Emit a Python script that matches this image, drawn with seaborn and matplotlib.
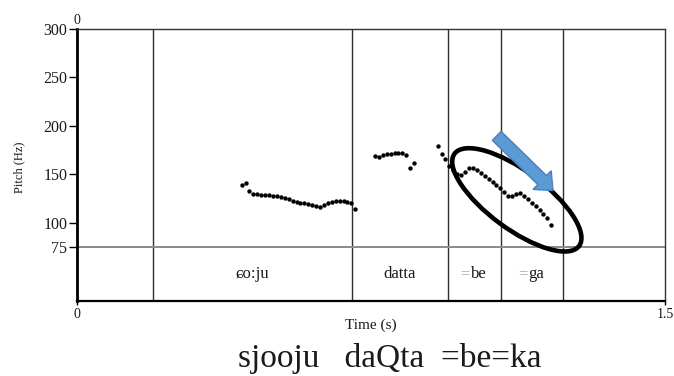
import matplotlib
matplotlib.use("Agg")
import matplotlib.pyplot as plt
import matplotlib.patches as mpatches
from matplotlib.transforms import IdentityTransform
import numpy as np
import pandas as pd
import seaborn as sns

# ---------------- data ----------------
seg1_time = [0.42, 0.43, 0.44, 0.45, 0.46, 0.47, 0.48, 0.49, 0.50, 0.51, 0.52,
             0.53, 0.54, 0.55, 0.56, 0.57, 0.58, 0.59, 0.60, 0.61, 0.62, 0.63,
             0.64, 0.65, 0.66, 0.67, 0.68, 0.69, 0.70, 0.71]
seg1_pitch = [138.9, 141.2, 132.7, 129.9, 129.6, 129.2, 129.0, 128.6, 128.0, 127.5,
              127.0, 125.6, 124.2, 123.0, 121.8, 120.9, 120.3, 119.6, 118.6, 117.0,
              116.5, 118.8, 120.5, 121.8, 122.4, 122.7, 122.4, 121.7, 120.3, 114.1]

seg2_time = [0.76, 0.77, 0.78, 0.79, 0.80, 0.81, 0.82, 0.83, 0.84, 0.85, 0.86]
seg2_pitch = [169.4, 167.7, 170.0, 170.8, 171.4, 171.9, 172.4, 172.0, 169.8, 156.7, 162.2]

seg3_time = [0.92, 0.93, 0.94, 0.95, 0.96, 0.97, 0.98, 0.99, 1.00, 1.01, 1.02,
             1.03, 1.04, 1.05, 1.06, 1.07, 1.08, 1.09, 1.10, 1.11, 1.12, 1.13,
             1.14, 1.15, 1.16, 1.17, 1.18, 1.19, 1.20, 1.21]
seg3_pitch = [179.7, 171.1, 166.0, 158.8, 154.6, 150.5, 149.0, 152.6, 156.2, 156.2,
              154.1, 151.2, 148.2, 145.4, 141.8, 138.7, 135.6, 132.0, 127.8, 127.3,
              129.4, 130.4, 127.3, 124.2, 120.6, 117.5, 113.4, 109.3, 104.6, 97.9]

boundaries = [0.193, 0.702, 0.946, 1.082, 1.240]
tier_labels = ["ɕo:ju", "datta", "=be", "=ga"]

y_ticks = [75, 100, 150, 200, 250, 300]
x_ticks = [0, 1.5]
x_ticklabels = ["0", "1.5"]
floor_line = 75
caption = "sjooju   daQta  =be=ka"

# annotation anchors (data coords)
ellipse_center = (1.122, 123.7)
arrow_tail = (1.0707, 189.7)
arrow_tip = (1.214, 133.3)

df = pd.DataFrame({
    "time": seg1_time + seg2_time + seg3_time,
    "pitch": seg1_pitch + seg2_pitch + seg3_pitch,
})

# ---------------- style ----------------
sns.set_theme(style="white")
serif = ["Liberation Serif", "DejaVu Serif"]
plt.rcParams["font.family"] = serif
plt.rcParams["axes.unicode_minus"] = False

W, H = 674, 376
fig = plt.figure(figsize=(W / 100, H / 100), dpi=100)
fig.patch.set_facecolor("white")
ax = fig.add_axes([77 / W, 1 - 301 / H, 588 / W, 272 / H])
ax.set_facecolor("white")

ybot = 19.3
ax.set_xlim(0, 1.5)
ax.set_ylim(ybot, 300)

# tier / grid lines
ax.vlines(boundaries, ybot, 300, color="#2e2e2e", lw=1.0, zorder=1)
ax.axhline(floor_line, color="#8a8a8a", lw=1.4, zorder=1)

# pitch points
sns.scatterplot(data=df, x="time", y="pitch", color="black", s=10,
                linewidth=0, ax=ax, legend=False, zorder=3)

# tier labels
ymid = (ybot + floor_line) / 2
for i, lab in enumerate(tier_labels):
    c = (boundaries[i] + boundaries[i + 1]) / 2
    if lab.startswith("="):
        ax.annotate("=", xy=(c, ymid), xytext=(-4.5, 0), textcoords="offset pixels",
                    ha="right", va="center", fontsize=12, color="#ababab")
        ax.annotate(lab[1:], xy=(c, ymid), xytext=(-4.0, 0), textcoords="offset pixels",
                    ha="left", va="center", fontsize=12, color="#1a1a1a")
    else:
        ax.text(c, ymid, lab, ha="center", va="center", fontsize=12, color="#1a1a1a")

# spines
for s in ["top", "right"]:
    ax.spines[s].set_color("#333333")
    ax.spines[s].set_linewidth(1.0)
ax.spines["left"].set_color("black")
ax.spines["left"].set_linewidth(2.0)
ax.spines["bottom"].set_color("black")
ax.spines["bottom"].set_linewidth(1.6)

ax.set_yticks(y_ticks)
ax.set_yticklabels([str(v) for v in y_ticks])
ax.set_xticks(x_ticks)
ax.set_xticklabels(x_ticklabels)
ax.tick_params(axis="y", direction="out", length=6, width=1, color="black",
               labelsize=11.5, pad=1, left=True, labelcolor="#1a1a1a")
ax.tick_params(axis="x", direction="out", length=3, width=1, color="black",
               labelsize=10, pad=2, bottom=True, labelcolor="#1a1a1a")

ax.annotate("0", xy=(0, 1.0), xycoords="axes fraction", xytext=(0, 2),
            textcoords="offset pixels", ha="center", va="bottom", fontsize=10,
            color="#1a1a1a")

ax.set_ylabel("Pitch (Hz)", fontsize=9, color="#1a1a1a")
ax.yaxis.set_label_coords(-0.088, 0.4926)
ax.set_xlabel("Time (s)", fontsize=11, color="#1a1a1a")
ax.xaxis.set_label_coords(0.5, -0.066)

fig.text(238 / W, 1 - 367 / H, caption, ha="left", va="baseline",
         fontsize=24, color="#1a1a1a")

# annotation ellipse and arrow (display pixel coordinates anchored on data)
cx, cy = ax.transData.transform(ellipse_center)
ell = mpatches.Ellipse((cx, cy), width=155, height=58, angle=-36.5, fill=False,
                       edgecolor="black", linewidth=3.3, transform=IdentityTransform(),
                       zorder=5)
fig.add_artist(ell)

tx, ty = ax.transData.transform(arrow_tail)
hx, hy = ax.transData.transform(arrow_tip)
arr = mpatches.FancyArrow(tx, ty, hx - tx, hy - ty, width=12.5, head_width=26,
                          head_length=15, length_includes_head=True,
                          facecolor="#5B9BD5", edgecolor="#4A7EBB", linewidth=1.0,
                          transform=IdentityTransform(), zorder=6)
fig.add_artist(arr)

fig.savefig("out.png", dpi=100)
